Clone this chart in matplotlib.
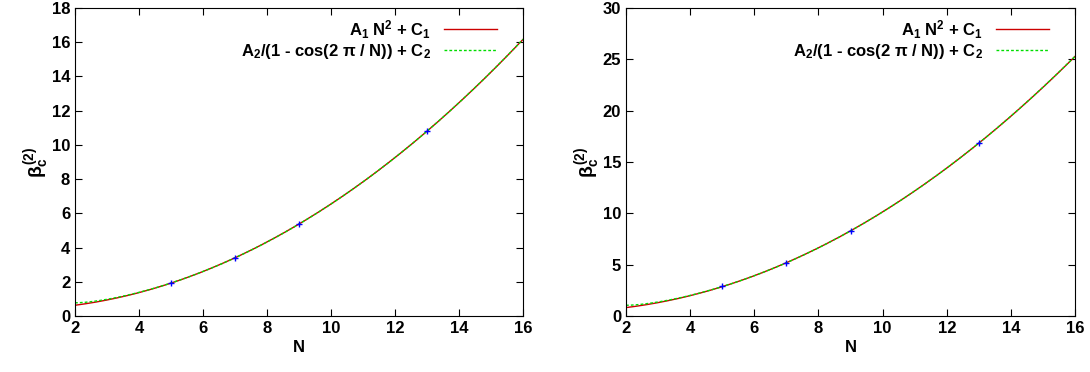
import numpy as np
import matplotlib
matplotlib.use("Agg")
import matplotlib.pyplot as plt

plt.rcParams['font.family'] = ['Liberation Sans', 'DejaVu Sans']
plt.rcParams['font.weight'] = 'bold'
plt.rcParams['mathtext.fontset'] = 'custom'
plt.rcParams['mathtext.rm'] = 'Liberation Sans:bold'
plt.rcParams['mathtext.it'] = 'Liberation Sans:bold'
plt.rcParams['mathtext.bf'] = 'Liberation Sans:bold'

# measured points (N, beta_c^(2)) for the two panels
N_pts = np.array([5, 7, 9, 13])
beta_left = np.array([1.93, 3.39, 5.38, 10.8])
beta_right = np.array([2.89, 5.16, 8.28, 16.85])

ylims = [18, 30]
yticks = [np.arange(0, 19, 2), np.arange(0, 31, 5)]

lab1 = 'A$_1$ N$^2$ + C$_1$'
lab2 = 'A$_2$/(1 - cos(2 \u03c0 / N)) + C$_2$'

fig = plt.figure(figsize=(10.9, 3.72), dpi=100)
boxes = [[0.0688, 0.1505, 0.411, 0.828], [0.5743, 0.1505, 0.412, 0.828]]

Nfine = np.linspace(2, 16, 300)

for box, beta, ymax, yt in zip(boxes, [beta_left, beta_right], ylims, yticks):
    ax = fig.add_axes(box)
    # fit A1 N^2 + C1
    M1 = np.column_stack([N_pts**2, np.ones(len(N_pts))])
    a1, c1 = np.linalg.lstsq(M1, beta, rcond=None)[0]
    # fit A2/(1-cos(2pi/N)) + C2
    M2 = np.column_stack([1 / (1 - np.cos(2 * np.pi / N_pts)), np.ones(len(N_pts))])
    a2, c2 = np.linalg.lstsq(M2, beta, rcond=None)[0]

    ax.plot(Nfine, a1 * Nfine**2 + c1, color='#cc0000', lw=1.0, label=lab1)
    ax.plot(Nfine, a2 / (1 - np.cos(2 * np.pi / Nfine)) + c2, color='#00dd00',
            lw=1.0, ls=(0, (2, 1.5)), label=lab2)
    ax.plot(N_pts, beta, '+', color='#0000ff', ms=5, mew=1.0)

    ax.set_xlim(2, 16)
    ax.set_ylim(0, ymax)
    ax.set_xticks(np.arange(2, 17, 2))
    ax.set_yticks(yt)
    ax.tick_params(direction='in', top=True, right=True, labelsize=12, length=5)
    for lbl in ax.get_xticklabels() + ax.get_yticklabels():
        lbl.set_fontweight('bold')
    ax.set_xlabel('N', fontsize=12, fontweight='bold', labelpad=3)
    ax.set_ylabel(r'$\beta_c^{(2)}$', fontsize=14, labelpad=0)
    ax.legend(loc='upper right', bbox_to_anchor=(0.965, 1.0), frameon=False,
              markerfirst=False, fontsize=12, handlelength=3.2, borderaxespad=0.2,
              labelspacing=0.1, handletextpad=0.8, alignment='right')

fig.savefig('out.png', dpi=100)
